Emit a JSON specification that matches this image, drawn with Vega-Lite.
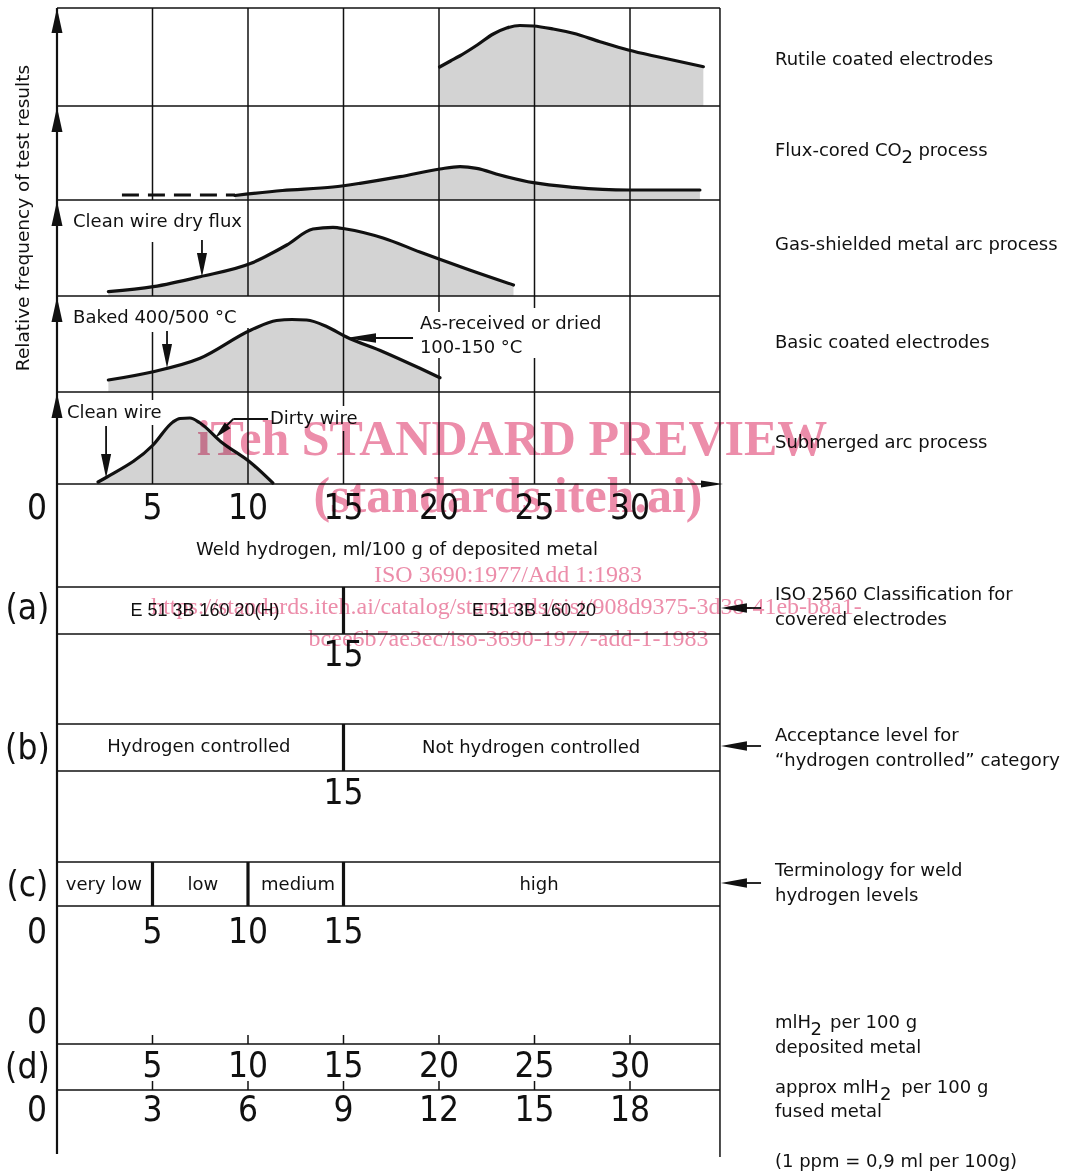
{
"$schema": "https://vega.github.io/schema/vega-lite/v6.json",
"width": 1076, "height": 1174,
"autosize": {"type": "fit", "contains": "padding"},
"padding": 0,
"background": "white",
"config": {"view": {"stroke": null}},
"datasets": {
"curves": [
{"c":"R","b":106,"x":20.03,"y":67},{"c":"R","b":106,"x":20.6,"y":61},{"c":"R","b":106,"x":21.08,"y":56},{"c":"R","b":106,"x":22.0,"y":45},{"c":"R","b":106,"x":22.84,"y":34},{"c":"R","b":106,"x":23.54,"y":28},{"c":"R","b":106,"x":24.24,"y":25.5},{"c":"R","b":106,"x":24.94,"y":26},{"c":"R","b":106,"x":25.98,"y":29},{"c":"R","b":106,"x":27.03,"y":33.3},{"c":"R","b":106,"x":28.43,"y":41.7},{"c":"R","b":106,"x":29.91,"y":50},{"c":"R","b":106,"x":31.57,"y":57.3},{"c":"R","b":106,"x":33.84,"y":66.7},
{"c":"F","b":200,"x":9.32,"y":195.5},{"c":"F","b":200,"x":11.8,"y":190.5},{"c":"F","b":200,"x":14.45,"y":187},{"c":"F","b":200,"x":15.86,"y":183.3},{"c":"F","b":200,"x":17.96,"y":176.7},{"c":"F","b":200,"x":20.05,"y":169},{"c":"F","b":200,"x":21.1,"y":166.7},{"c":"F","b":200,"x":21.97,"y":168.3},{"c":"F","b":200,"x":23.19,"y":175},{"c":"F","b":200,"x":24.94,"y":182.7},{"c":"F","b":200,"x":27.03,"y":187.3},{"c":"F","b":200,"x":29.91,"y":190},{"c":"F","b":200,"x":33.66,"y":190},
{"c":"G","b":296,"x":2.69,"y":291.7},{"c":"G","b":296,"x":5.04,"y":286.7},{"c":"G","b":296,"x":7.49,"y":276.7},{"c":"G","b":296,"x":10.16,"y":263.3},{"c":"G","b":296,"x":12.03,"y":245},{"c":"G","b":296,"x":13.4,"y":229},{"c":"G","b":296,"x":14.45,"y":227.3},{"c":"G","b":296,"x":15.13,"y":229},{"c":"G","b":296,"x":17.07,"y":238},{"c":"G","b":296,"x":19.0,"y":252},{"c":"G","b":296,"x":20.0,"y":259},{"c":"G","b":296,"x":21.6,"y":270},{"c":"G","b":296,"x":23.9,"y":285},
{"c":"B","b":392,"x":2.69,"y":380},{"c":"B","b":392,"x":5.04,"y":371.7},{"c":"B","b":392,"x":7.49,"y":358.3},{"c":"B","b":392,"x":10.16,"y":330},{"c":"B","b":392,"x":11.5,"y":320.5},{"c":"B","b":392,"x":12.3,"y":319.5},{"c":"B","b":392,"x":13.07,"y":320},{"c":"B","b":392,"x":14.14,"y":326.7},{"c":"B","b":392,"x":15.13,"y":336.7},{"c":"B","b":392,"x":17.07,"y":351.7},{"c":"B","b":392,"x":19.0,"y":368.3},{"c":"B","b":392,"x":20.05,"y":377.7},
{"c":"S","b":484,"x":2.15,"y":482},{"c":"S","b":484,"x":2.62,"y":477},{"c":"S","b":484,"x":5.03,"y":445},{"c":"S","b":484,"x":6.07,"y":422},{"c":"S","b":484,"x":6.44,"y":418.5},{"c":"S","b":484,"x":6.96,"y":418},{"c":"S","b":484,"x":7.49,"y":423},{"c":"S","b":484,"x":8.6,"y":442},{"c":"S","b":484,"x":10.1,"y":462},{"c":"S","b":484,"x":11.3,"y":483}
],
"segs": [
{"k":"thin","x":0,"y":8,"x2":34.71,"y2":8},{"k":"thin","x":0,"y":106,"x2":34.71,"y2":106},{"k":"thin","x":0,"y":200,"x2":34.71,"y2":200},{"k":"thin","x":0,"y":296,"x2":34.71,"y2":296},{"k":"thin","x":0,"y":392,"x2":34.71,"y2":392},
{"k":"thin","x":0,"y":484,"x2":34.1,"y2":484},
{"k":"thin","x":0,"y":587,"x2":34.71,"y2":587},{"k":"thin","x":0,"y":634,"x2":34.71,"y2":634},{"k":"thin","x":0,"y":724,"x2":34.71,"y2":724},{"k":"thin","x":0,"y":771,"x2":34.71,"y2":771},{"k":"thin","x":0,"y":862,"x2":34.71,"y2":862},{"k":"thin","x":0,"y":906,"x2":34.71,"y2":906},{"k":"thin","x":0,"y":1044,"x2":34.71,"y2":1044},{"k":"thin","x":0,"y":1090,"x2":34.71,"y2":1090},
{"k":"thin","x":34.71,"y":8,"x2":34.71,"y2":1157},
{"k":"thin","x":5,"y":8,"x2":5,"y2":200},{"k":"thin","x":5,"y":242,"x2":5,"y2":296},{"k":"thin","x":5,"y":332,"x2":5,"y2":400},{"k":"thin","x":5,"y":425,"x2":5,"y2":484},
{"k":"thin","x":10,"y":8,"x2":10,"y2":296},{"k":"thin","x":10,"y":328,"x2":10,"y2":484},
{"k":"thin","x":15,"y":8,"x2":15,"y2":406},{"k":"thin","x":15,"y":431,"x2":15,"y2":484},
{"k":"thin","x":20,"y":8,"x2":20,"y2":312},{"k":"thin","x":20,"y":358,"x2":20,"y2":484},
{"k":"thin","x":25,"y":8,"x2":25,"y2":308},{"k":"thin","x":25,"y":358,"x2":25,"y2":484},
{"k":"thin","x":30,"y":8,"x2":30,"y2":484},
{"k":"thin","x":5,"y":1035,"x2":5,"y2":1044},{"k":"thin","x":10,"y":1035,"x2":10,"y2":1044},{"k":"thin","x":15,"y":1035,"x2":15,"y2":1044},{"k":"thin","x":20,"y":1035,"x2":20,"y2":1044},{"k":"thin","x":25,"y":1035,"x2":25,"y2":1044},{"k":"thin","x":30,"y":1035,"x2":30,"y2":1044},
{"k":"thin","x":5,"y":1081,"x2":5,"y2":1090},{"k":"thin","x":10,"y":1081,"x2":10,"y2":1090},{"k":"thin","x":15,"y":1081,"x2":15,"y2":1090},{"k":"thin","x":20,"y":1081,"x2":20,"y2":1090},{"k":"thin","x":25,"y":1081,"x2":25,"y2":1090},{"k":"thin","x":30,"y":1081,"x2":30,"y2":1090},
{"k":"axis","x":0,"y":8,"x2":0,"y2":1154},
{"k":"thick","x":15,"y":587,"x2":15,"y2":634},{"k":"thick","x":15,"y":724,"x2":15,"y2":771},{"k":"thick","x":5,"y":862,"x2":5,"y2":906},{"k":"thick","x":10,"y":862,"x2":10,"y2":906},{"k":"thick","x":15,"y":862,"x2":15,"y2":906},
{"k":"shaft","x":7.59,"y":240,"x2":7.59,"y2":258},{"k":"shaft","x":5.76,"y":331,"x2":5.76,"y2":350},{"k":"shaft","x":16.4,"y":338,"x2":18.64,"y2":338},{"k":"shaft","x":2.57,"y":426,"x2":2.57,"y2":458},
{"k":"shaft","x":9.23,"y":419,"x2":11.05,"y2":419},{"k":"shaft","x":9.23,"y":419,"x2":8.6,"y2":431},
{"k":"shaft","x":35.6,"y":608,"x2":36.86,"y2":608},{"k":"shaft","x":35.6,"y":746,"x2":36.86,"y2":746},{"k":"shaft","x":35.6,"y":883,"x2":36.86,"y2":883}
],
"dash": [{"x":3.4,"y":195,"x2":9.32,"y2":195}],
"heads": [
{"d":"up","x":0,"y":8},{"d":"up","x":0,"y":107},{"d":"up","x":0,"y":201},{"d":"up","x":0,"y":297},{"d":"up","x":0,"y":393},
{"d":"down","x":7.59,"y":277},{"d":"down","x":5.76,"y":368},{"d":"down","x":2.57,"y":478},
{"d":"left","x":34.76,"y":608},{"d":"left","x":34.76,"y":746},{"d":"left","x":34.76,"y":883},
{"d":"left2","x":15.13,"y":338},
{"d":"right","x":34.87,"y":484},
{"d":"diag","x":8.27,"y":438}
],
"tleft": [
{"x":37.59,"y":60,"t":"Rutile coated electrodes"},
{"x":37.59,"y":151,"t":"Flux-cored CO"},{"x":44.22,"y":158,"t":"2"},{"x":45.1,"y":151,"t":"process"},
{"x":37.59,"y":245,"t":"Gas-shielded metal arc process"},
{"x":37.59,"y":343,"t":"Basic coated electrodes"},
{"x":37.59,"y":443,"t":"Submerged arc process"},
{"x":0.84,"y":222,"t":"Clean wire dry flux"},
{"x":0.84,"y":318,"t":"Baked 400/500 °C"},
{"x":19.0,"y":324,"t":"As-received or dried"},
{"x":19.0,"y":348,"t":"100-150 °C"},
{"x":0.52,"y":413,"t":"Clean wire"},
{"x":11.15,"y":419,"t":"Dirty wire"},
{"x":37.59,"y":595,"t":"ISO 2560 Classification for"},
{"x":37.59,"y":620,"t":"covered electrodes"},
{"x":37.59,"y":736,"t":"Acceptance level for"},
{"x":37.59,"y":761,"t":"“hydrogen controlled” category"},
{"x":37.59,"y":871,"t":"Terminology for weld"},
{"x":37.59,"y":896,"t":"hydrogen levels"},
{"x":37.59,"y":1023,"t":"mlH"},{"x":39.45,"y":1030,"t":"2"},{"x":40.47,"y":1023,"t":"per 100 g"},
{"x":37.59,"y":1048,"t":"deposited metal"},
{"x":37.59,"y":1088,"t":"approx mlH"},{"x":43.09,"y":1095,"t":"2"},{"x":44.2,"y":1088,"t":"per 100 g"},
{"x":37.59,"y":1112,"t":"fused metal"},
{"x":37.59,"y":1162,"t":"(1 ppm = 0,9 ml per 100g)"}
],
"tcenter": [
{"x":17.8,"y":550,"t":"Weld hydrogen, ml/100 g of deposited metal"},
{"x":7.43,"y":747,"t":"Hydrogen controlled"},
{"x":24.82,"y":748,"t":"Not hydrogen controlled"},
{"x":2.46,"y":885,"t":"very low"},
{"x":7.64,"y":885,"t":"low"},
{"x":12.62,"y":885,"t":"medium"},
{"x":25.24,"y":885,"t":"high"}
],
"tcode": [
{"x":7.75,"y":611,"t":"E 51 3B 160 20(H)"},
{"x":24.97,"y":611,"t":"E 51 3B 160 20"}
],
"digits": [
{"x":-1.05,"y":508,"t":"0"},{"x":5,"y":508,"t":"5"},{"x":10,"y":508,"t":"10"},{"x":15,"y":508,"t":"15"},{"x":20,"y":508,"t":"20"},{"x":25,"y":508,"t":"25"},{"x":30,"y":508,"t":"30"},
{"x":-1.55,"y":608,"t":"(a)"},{"x":-1.55,"y":748,"t":"(b)"},{"x":-1.55,"y":885,"t":"(c)"},{"x":-1.55,"y":1067,"t":"(d)"},
{"x":15,"y":655,"t":"15"},{"x":15,"y":793,"t":"15"},
{"x":-1.05,"y":932,"t":"0"},{"x":5,"y":932,"t":"5"},{"x":10,"y":932,"t":"10"},{"x":15,"y":932,"t":"15"},
{"x":-1.05,"y":1022,"t":"0"},
{"x":5,"y":1066,"t":"5"},{"x":10,"y":1066,"t":"10"},{"x":15,"y":1066,"t":"15"},{"x":20,"y":1066,"t":"20"},{"x":25,"y":1066,"t":"25"},{"x":30,"y":1066,"t":"30"},
{"x":-1.05,"y":1110,"t":"0"},{"x":5,"y":1110,"t":"3"},{"x":10,"y":1110,"t":"6"},{"x":15,"y":1110,"t":"9"},{"x":20,"y":1110,"t":"12"},{"x":25,"y":1110,"t":"15"},{"x":30,"y":1110,"t":"18"}
],
"ytitle": [{"x":-1.8,"y":218,"t":"Relative frequency of test results"}],
"wmbig": [
{"x":23.82,"y":440,"t":"iTeh STANDARD PREVIEW"},
{"x":23.61,"y":497,"t":"(standards.iteh.ai)"}
],
"wmsmall": [
{"x":23.61,"y":575,"t":"ISO 3690:1977/Add 1:1983"},
{"x":23.53,"y":607,"t":"https://standards.iteh.ai/catalog/standards/sist/908d9375-3d38-41eb-b8a1-"},
{"x":23.64,"y":639,"t":"bcee6b7ae3ec/iso-3690-1977-add-1-1983"}
]
},
"encoding": {
"x": {"field": "x", "type": "quantitative", "scale": {"domain": [-2.984, 53.35], "nice": false, "zero": false}, "axis": null},
"y": {"field": "y", "type": "quantitative", "scale": {"domain": [0, 1174], "reverse": true, "nice": false, "zero": false}, "axis": null}
},
"layer": [
{"data": {"name": "curves"}, "mark": {"type": "area", "interpolate": "monotone", "color": "#d3d3d3"},
 "encoding": {"y": {"field": "y", "type": "quantitative", "stack": null, "scale": {"domain": [0, 1174], "reverse": true, "nice": false, "zero": false}, "axis": null}, "y2": {"field": "b"}, "detail": {"field": "c"}}},
{"data": {"name": "segs"}, "transform": [{"filter": "datum.k == 'thin'"}], "mark": {"type": "rule", "color": "#111", "strokeWidth": 1.5},
 "encoding": {"x2": {"field": "x2"}, "y2": {"field": "y2"}}},
{"data": {"name": "segs"}, "transform": [{"filter": "datum.k == 'axis'"}], "mark": {"type": "rule", "color": "#111", "strokeWidth": 2.2},
 "encoding": {"x2": {"field": "x2"}, "y2": {"field": "y2"}}},
{"data": {"name": "segs"}, "transform": [{"filter": "datum.k == 'thick'"}], "mark": {"type": "rule", "color": "#111", "strokeWidth": 3.2},
 "encoding": {"x2": {"field": "x2"}, "y2": {"field": "y2"}}},
{"data": {"name": "segs"}, "transform": [{"filter": "datum.k == 'shaft'"}], "mark": {"type": "rule", "color": "#111", "strokeWidth": 1.8},
 "encoding": {"x2": {"field": "x2"}, "y2": {"field": "y2"}}},
{"data": {"name": "dash"}, "mark": {"type": "rule", "color": "#111", "strokeWidth": 3, "strokeDash": [17, 9]},
 "encoding": {"x2": {"field": "x2"}, "y2": {"field": "y2"}}},
{"data": {"name": "curves"}, "mark": {"type": "line", "interpolate": "monotone", "color": "#111", "strokeWidth": 3.2, "strokeCap": "round"},
 "encoding": {"detail": {"field": "c"}}},
{"data": {"name": "heads"}, "transform": [{"filter": "datum.d == 'up'"}], "mark": {"type": "point", "shape": "M0,0L-0.44,2L0.44,2Z", "size": 625, "filled": true, "color": "#111", "opacity": 1, "strokeWidth": 0}},
{"data": {"name": "heads"}, "transform": [{"filter": "datum.d == 'down'"}], "mark": {"type": "point", "shape": "M0,0L-0.42,-2L0.42,-2Z", "size": 576, "filled": true, "color": "#111", "opacity": 1, "strokeWidth": 0}},
{"data": {"name": "heads"}, "transform": [{"filter": "datum.d == 'left'"}], "mark": {"type": "point", "shape": "M0,0L2,-0.36L2,0.36Z", "size": 676, "filled": true, "color": "#111", "opacity": 1, "strokeWidth": 0}},
{"data": {"name": "heads"}, "transform": [{"filter": "datum.d == 'left2'"}], "mark": {"type": "point", "shape": "M0,0L2,-0.32L2,0.32Z", "size": 900, "filled": true, "color": "#111", "opacity": 1, "strokeWidth": 0}},
{"data": {"name": "heads"}, "transform": [{"filter": "datum.d == 'right'"}], "mark": {"type": "point", "shape": "M0,0L-2,-0.32L-2,0.32Z", "size": 484, "filled": true, "color": "#111", "opacity": 1, "strokeWidth": 0}},
{"data": {"name": "heads"}, "transform": [{"filter": "datum.d == 'diag'"}], "mark": {"type": "point", "shape": "M0,0L-0.45,-2L0.45,-2Z", "size": 324, "angle": 45, "filled": true, "color": "#111", "opacity": 1, "strokeWidth": 0}},
{"data": {"name": "tleft"}, "mark": {"type": "text", "align": "left", "baseline": "middle", "font": "DejaVu Sans", "fontSize": 18, "color": "#111"},
 "encoding": {"text": {"field": "t"}}},
{"data": {"name": "tcenter"}, "mark": {"type": "text", "align": "center", "baseline": "middle", "font": "DejaVu Sans", "fontSize": 18, "color": "#111"},
 "encoding": {"text": {"field": "t"}}},
{"data": {"name": "tcode"}, "mark": {"type": "text", "align": "center", "baseline": "middle", "font": "Liberation Sans", "fontSize": 18, "color": "#111"},
 "encoding": {"text": {"field": "t"}}},
{"data": {"name": "digits"}, "mark": {"type": "text", "align": "center", "baseline": "middle", "font": "Liberation Sans Narrow, DejaVu Sans Condensed, Liberation Sans, sans-serif", "fontSize": 35, "color": "#111"},
 "encoding": {"text": {"field": "t"}}},
{"data": {"name": "ytitle"}, "mark": {"type": "text", "align": "center", "baseline": "middle", "angle": 270, "font": "DejaVu Sans", "fontSize": 18.5, "color": "#111"},
 "encoding": {"text": {"field": "t"}}},
{"data": {"name": "wmbig"}, "mark": {"type": "text", "align": "center", "baseline": "middle", "font": "Liberation Serif", "fontWeight": "bold", "fontSize": 50, "color": "#ec8daa", "blend": "multiply"},
 "encoding": {"text": {"field": "t"}}},
{"data": {"name": "wmsmall"}, "mark": {"type": "text", "align": "center", "baseline": "middle", "font": "Liberation Serif", "fontSize": 24, "color": "#ec8daa", "blend": "multiply"},
 "encoding": {"text": {"field": "t"}}}
]
}
